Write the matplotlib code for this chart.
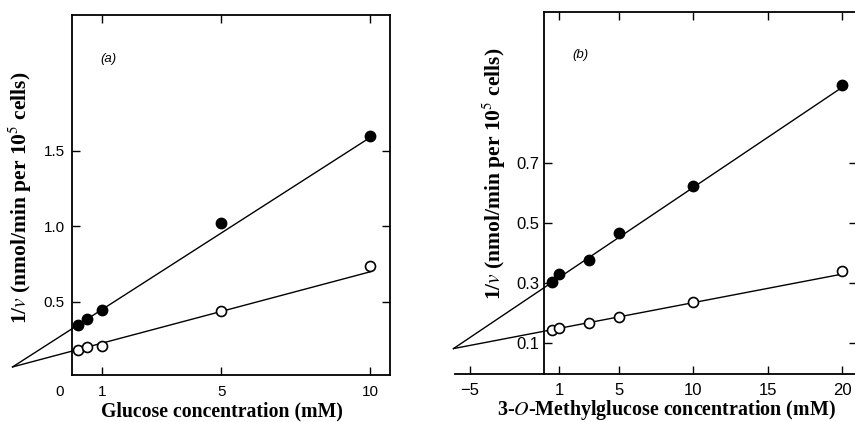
import matplotlib
matplotlib.use("Agg")
import matplotlib.pyplot as plt

plt.rcParams['mathtext.fontset'] = 'stix'
plt.rcParams['font.family'] = ['Liberation Serif', 'DejaVu Serif']

# ---------------- data ----------------
# Panel (a): glucose
glc_x_filled = [0.2, 0.5, 1.0, 5.0, 10.0]
glc_y_filled = [0.35, 0.39, 0.45, 1.02, 1.60]
glc_x_open = [0.2, 0.5, 1.0, 5.0, 10.0]
glc_y_open = [0.18, 0.20, 0.21, 0.44, 0.74]
glc_fit_x = [-2.0, 10.0]
glc_fit_filled = [0.07, 1.59]
glc_fit_open = [0.07, 0.70]
glc_xticks = [1, 5, 10]
glc_xticklabels = ['1', '5', '10']
glc_yticks = [0.5, 1.0, 1.5]
glc_yticklabels = ['0.5', '1.0', '1.5']

# Panel (b): 3-O-methylglucose
omg_x_filled = [0.5, 1.0, 3.0, 5.0, 10.0, 20.0]
omg_y_filled = [0.306, 0.331, 0.378, 0.467, 0.626, 0.961]
omg_x_open = [0.5, 1.0, 3.0, 5.0, 10.0, 20.0]
omg_y_open = [0.145, 0.151, 0.168, 0.189, 0.239, 0.340]
omg_fit_x = [-6.1, 20.0]
omg_fit_filled = [0.083, 0.953]
omg_fit_open = [0.083, 0.331]
omg_xticks = [-5, 1, 5, 10, 15, 20]
omg_xticklabels = ['\u22125', '1', '5', '10', '15', '20']
omg_yticks = [0.1, 0.3, 0.5, 0.7]
omg_yticklabels = ['0.1', '0.3', '0.5', '0.7']

W, H = 855, 422
fig = plt.figure(figsize=(W / 100, H / 100), dpi=100)

def frac_box(l, t, r, b):
    return [l / W, 1 - b / H, (r - l) / W, (b - t) / H]

TICKFONT = 'Liberation Sans'
LW = 1.0
SPW = 1.3

def style_points(ax, xf, yf, xo, yo, fx, ff, fo):
    ax.plot(fx, ff, color='black', lw=LW, clip_on=False, zorder=2)
    ax.plot(fx, fo, color='black', lw=LW, clip_on=False, zorder=2)
    ax.plot(xf, yf, 'o', color='black', ms=7.5, zorder=3, clip_on=False)
    ax.plot(xo, yo, 'o', mfc='white', mec='black', mew=1.2, ms=7.2,
            zorder=3, clip_on=False)
    for s in ax.spines.values():
        s.set_linewidth(SPW)

# ---------------- panel (a) ----------------
ax1 = fig.add_axes(frac_box(72.2, 15, 390, 375))
style_points(ax1, glc_x_filled, glc_y_filled, glc_x_open, glc_y_open,
             glc_fit_x, glc_fit_filled, glc_fit_open)
ax1.set_xlim(0, 10.66)
ax1.set_ylim(0.0166, 2.40)
ax1.set_xticks(glc_xticks)
ax1.set_xticklabels(glc_xticklabels, family=TICKFONT, fontsize=11)
ax1.set_yticks(glc_yticks)
ax1.set_yticklabels(glc_yticklabels, family=TICKFONT, fontsize=11)
ax1.tick_params(direction='in', top=True, right=True, length=5.5, width=1.0)
ax1.tick_params(axis='x', pad=7.5)
ax1.tick_params(axis='y', pad=5.5)
ax1.annotate('0', xy=(0, 0), xycoords='axes fraction',
             xytext=(-12.2 * 0.72, -7.5), textcoords='offset points',
             ha='center', va='top', fontsize=11, family=TICKFONT)
ax1.text(108 / W, 1 - 59 / H, '(a)', transform=fig.transFigure,
         ha='center', va='center', fontsize=9.5, family=TICKFONT, style='italic')

# ---------------- panel (b) ----------------
ax2 = fig.add_axes(frac_box(455, 11.7, 857, 373.5))
style_points(ax2, omg_x_filled, omg_y_filled, omg_x_open, omg_y_open,
             omg_fit_x, omg_fit_filled, omg_fit_open)
ax2.set_xlim(-6.0, 21.0)
ax2.set_ylim(0.0, 1.205)
ax2.spines['left'].set_position(('data', 0))
ax2.spines['top'].set_bounds(0, 21.0)
ax2.set_xticks(omg_xticks)
ax2.set_xticklabels(omg_xticklabels, family=TICKFONT, fontsize=12)
ax2.set_yticks(omg_yticks)
ax2.set_yticklabels(omg_yticklabels, family=TICKFONT, fontsize=12)
ax2.tick_params(direction='in', top=True, right=True, length=5.5, width=1.0)
ax2.tick_params(axis='x', pad=6.5)
ax2.tick_params(axis='y', pad=3.5)
ax2.xaxis.get_major_ticks()[0].tick2line.set_visible(False)
fig.text(580 / W, 1 - 55 / H, '(b)', ha='center', va='center',
         fontsize=9.5, family=TICKFONT, style='italic')

# ---------------- axis titles ----------------
ylab = r'1/$v$ (nmol/min per 10$^5$ cells)'
fig.text(20 / W, 1 - 198 / H, ylab, rotation=90, ha='center', va='center',
         fontsize=15.5, fontweight='bold')
fig.text(494 / W, 1 - 173.5 / H, ylab, rotation=90, ha='center', va='center',
         fontsize=15.5, fontweight='bold')
fig.text(221.7 / W, 1 - 416 / H, 'Glucose concentration (mM)',
         ha='center', va='baseline', fontsize=14.2, fontweight='bold')
fig.text(666.7 / W, 1 - 415 / H, r'3-$O$-Methylglucose concentration (mM)',
         ha='center', va='baseline', fontsize=14.4, fontweight='bold')

fig.savefig('out.png', dpi=100)
